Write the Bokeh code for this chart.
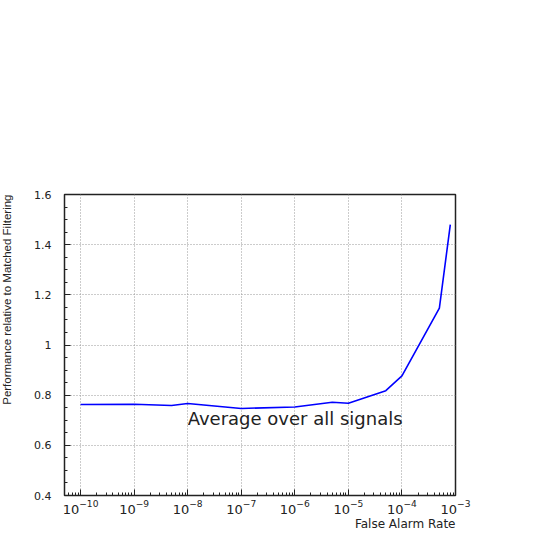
import math
from bokeh.plotting import figure
from bokeh.models import Range1d, SingleIntervalTicker, LogTicker, Label, Title
from bokeh.embed import file_html
from bokeh.resources import INLINE

# Data
false_alarm_rate = [1e-10, 1e-9, 5e-9, 1e-8, 1e-7, 1e-6, 5e-6, 1e-5, 5e-5, 1e-4, 5e-4, 8e-4]
performance = [0.763, 0.764, 0.759, 0.767, 0.747, 0.753, 0.772, 0.768, 0.818, 0.877, 1.147, 1.48]

x_label = "False Alarm Rate"
y_label = "Performance relative to Matched Filtering"
note = "Average over all signals"

p = figure(
    width=545, height=545,
    frame_width=391, frame_height=301,
    min_border_left=63, min_border_right=91, min_border_top=194, min_border_bottom=50,
    x_axis_type="log",
    x_range=Range1d(10 ** -10.3, 1e-3),
    y_range=Range1d(0.4, 1.6),
    output_backend="svg", toolbar_location=None,
    background_fill_color="white", border_fill_color="white",
)
p.outline_line_color = "#222222"
p.outline_line_width = 1.5

# Axes
p.xaxis.ticker = LogTicker(desired_num_ticks=8, num_minor_ticks=10)
p.yaxis.ticker = SingleIntervalTicker(interval=0.2, num_minor_ticks=4)
for ax in (p.xaxis[0], p.yaxis[0]):
    ax.major_tick_in = 6
    ax.major_tick_out = 0
    ax.minor_tick_in = 3
    ax.minor_tick_out = 0
    ax.axis_line_color = "#222222"
    ax.major_tick_line_color = "#222222"
    ax.minor_tick_line_color = "#222222"
    ax.major_label_text_font = "DejaVu Sans"
    ax.major_label_text_color = "#222222"

p.xaxis.major_label_text_font_size = "13px"
p.xaxis.major_label_standoff = 4
p.yaxis.major_label_text_font_size = "11px"
p.yaxis.major_label_standoff = 13

# spacer between y tick labels and the y title
p.yaxis.axis_label = "\u00a0"
p.yaxis.axis_label_text_font = "Liberation Sans"
p.yaxis.axis_label_text_font_size = "11.5px"
p.yaxis.axis_label_standoff = 2

# Axis titles, aligned to the frame's far ends (as in the reference)
p.add_layout(Title(text=x_label, align="right", vertical_align="top",
                   text_font="DejaVu Sans",
                   text_font_style="normal", text_font_size="12px",
                   text_color="#222222", standoff=0, offset=0), "below")
p.add_layout(Title(text=y_label, align="right", vertical_align="top",
                   text_font="Liberation Sans",
                   text_font_style="normal", text_font_size="11.5px",
                   text_color="#222222", standoff=0, offset=0), "left")

# Grid
for g in (p.xgrid[0], p.ygrid[0]):
    g.grid_line_color = "#999999"
    g.grid_line_dash = "1 2"
    g.grid_line_width = 1

p.line(false_alarm_rate, performance, line_color="#0000ff", line_width=1.6)

p.add_layout(Label(x=1e-8, y=0.707, text=note, text_font="DejaVu Sans",
                   text_font_size="18px", text_color="#222222",
                   text_baseline="alphabetic", text_align="left"))

open("out.html", "w").write(file_html(p, INLINE))
